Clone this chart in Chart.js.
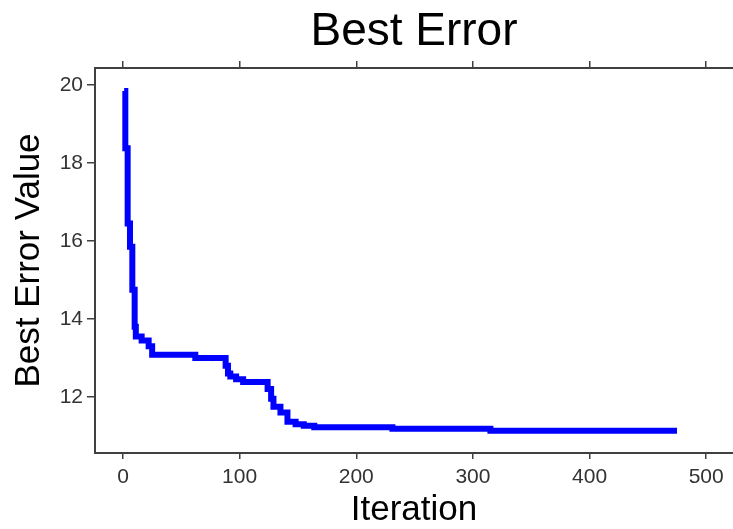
<!DOCTYPE html>
<html>
<head>
<meta charset="utf-8">
<script src="https://cdn.jsdelivr.net/npm/chart.js@4/dist/chart.umd.min.js"></script>
<style>
  html, body { margin:0; padding:0; background:#fff; }
  #wrap { width:733px; height:529px; }
</style>
</head>
<body>
<div id="wrap"><canvas id="errChart" width="733" height="529"></canvas></div>
<script>
// best error per iteration (value changes only)
const iterations = [1, 2, 4, 6, 8, 10, 11, 16, 22, 25, 62, 88, 90, 92, 97, 103, 124, 127, 129, 135, 141, 148, 155, 164, 231, 315, 475];
const bestError  = [19.85, 18.38, 16.45, 15.85, 14.75, 13.8, 13.55, 13.45, 13.3, 13.08, 13.0, 12.8, 12.6, 12.52, 12.45, 12.38, 12.2, 11.95, 11.75, 11.6, 11.36, 11.3, 11.26, 11.22, 11.18, 11.13, 11.13];

const xTicks = [0, 100, 200, 300, 400, 500];
const yTicks = [12, 14, 16, 18, 20];

const FONT = "'Liberation Sans', Arial, sans-serif";
const AXIS = '#404040';

const points = iterations.map((it, i) => ({ x: it, y: bestError[i] }));

const ctx = document.getElementById('errChart').getContext('2d');

// stepped 'before' = hold previous value, then drop at the new iteration
const errChart = new Chart(ctx, {
  type: 'line',
  data: {
    datasets: [{
      label: 'Best Error',
      data: points,
      borderColor: '#0000ff',
      borderWidth: 6,
      stepped: 'before',
      pointRadius: 0,
      fill: false
    }]
  },
  options: {
    responsive: false,
    animation: false,
    layout: { padding: 0 },
    plugins: {
      legend: { display: false },
      tooltip: { enabled: false },
      title: { display: false }
    },
    scales: {
      x: {
        type: 'linear',
        position: 'bottom',
        min: -24,
        max: 523,
        afterBuildTicks: s => { s.ticks = xTicks.map(v => ({ value: v })); },
        afterFit: s => { s.height = 76; },
        border: { display: true, color: AXIS, width: 2 },
        grid: { drawOnChartArea: false, drawTicks: true, tickLength: 6, color: AXIS, lineWidth: 1.5 },
        ticks: { color: '#333', padding: 6, maxRotation: 0, font: { family: FONT, size: 21 } },
        title: {
          display: true,
          text: 'Iteration',
          color: '#000',
          font: { family: FONT, size: 35, lineHeight: 1 },
          padding: { top: 0, bottom: 1 }
        }
      },
      // top frame line with tick marks; its title is the chart title, centred over the plot
      xTop: {
        type: 'linear',
        position: 'top',
        min: -24,
        max: 523,
        afterBuildTicks: s => { s.ticks = xTicks.map(v => ({ value: v })); },
        afterFit: s => { s.height = 68; },
        border: { display: true, color: AXIS, width: 2 },
        grid: { drawOnChartArea: false, drawTicks: true, tickLength: 7, color: AXIS, lineWidth: 1.5 },
        ticks: { display: false },
        title: {
          display: true,
          text: 'Best Error',
          color: '#000',
          font: { family: FONT, size: 46, lineHeight: 1 },
          padding: { top: 9, bottom: 0 }
        }
      },
      y: {
        type: 'linear',
        position: 'left',
        min: 10.56,
        max: 20.44,
        afterBuildTicks: s => { s.ticks = yTicks.map(v => ({ value: v })); },
        afterFit: s => { s.width = 95; },
        border: { display: true, color: AXIS, width: 2 },
        grid: { drawOnChartArea: false, drawTicks: true, tickLength: 8, color: AXIS, lineWidth: 1.5 },
        ticks: { color: '#333', padding: 4, font: { family: FONT, size: 21 } },
        title: {
          display: true,
          text: 'Best Error Value',
          color: '#000',
          font: { family: FONT, size: 35, lineHeight: 1 },
          padding: { top: 12, bottom: 0 }
        }
      }
    }
  }
});
</script>
</body>
</html>
